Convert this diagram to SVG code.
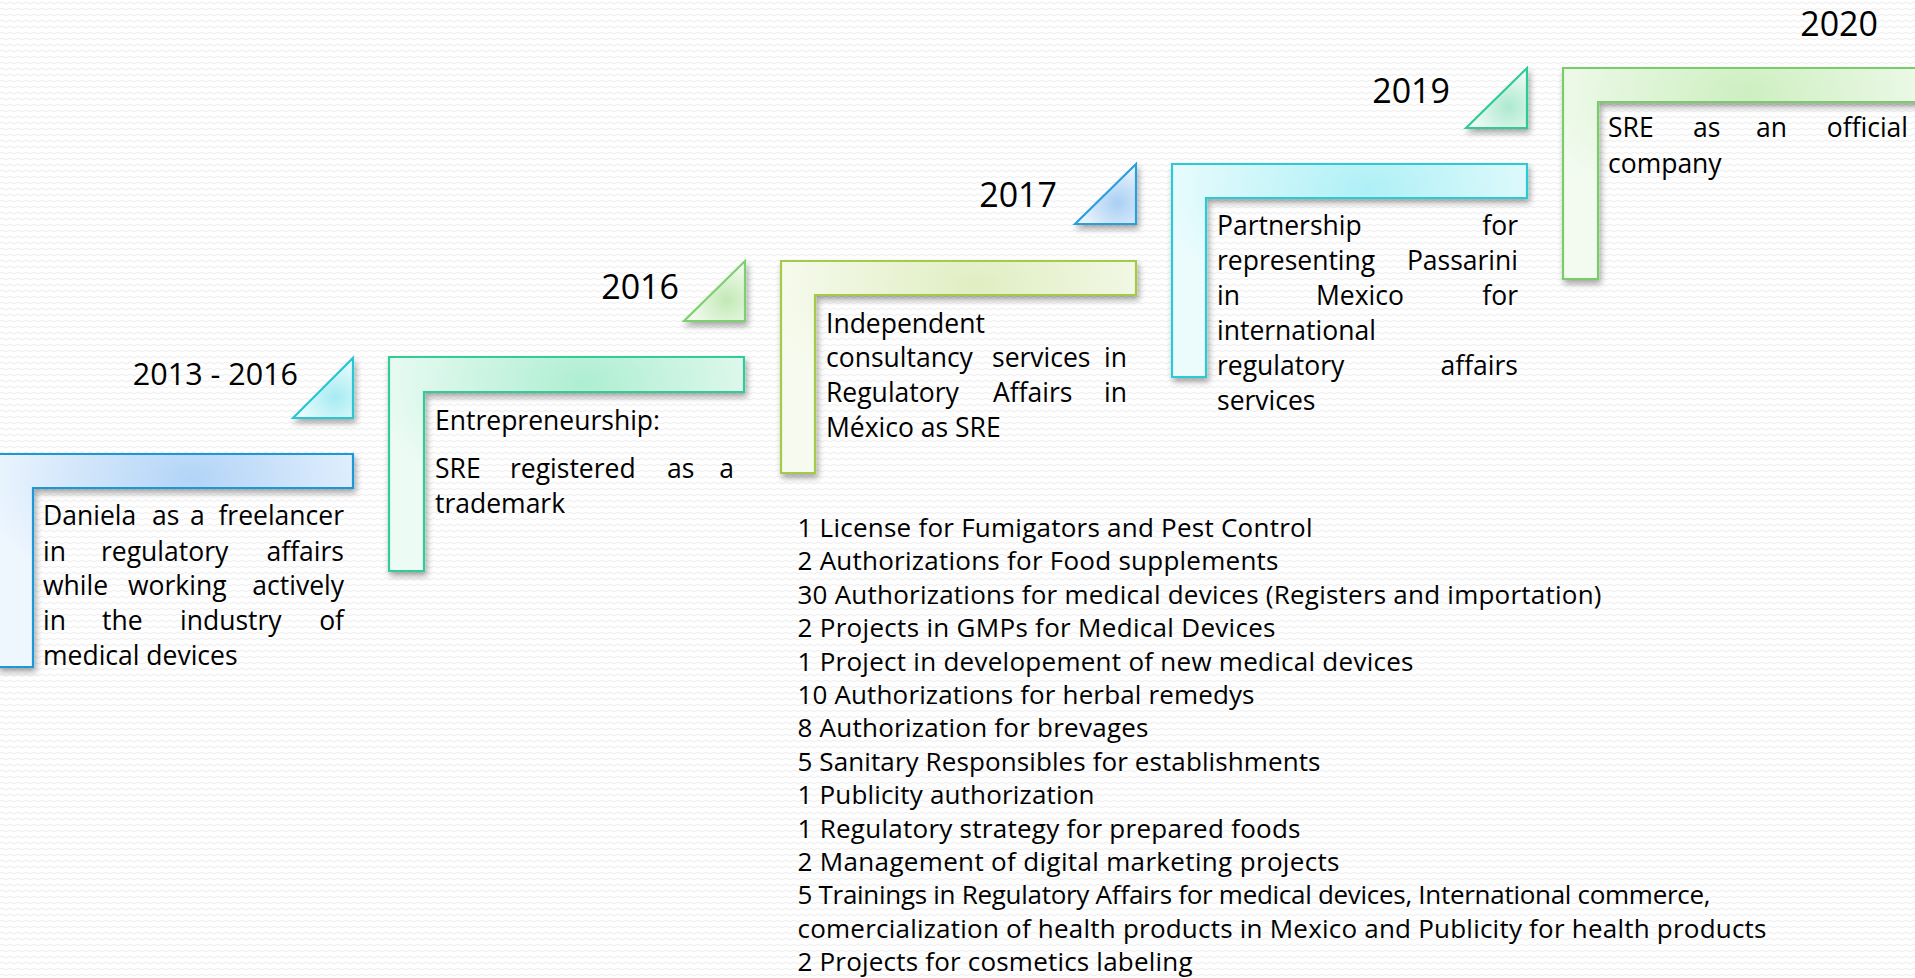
<svg xmlns="http://www.w3.org/2000/svg" width="1915" height="978" viewBox="0 0 1915 978">
<defs>
<pattern id="bg" width="8" height="6" patternUnits="userSpaceOnUse">
<rect width="8" height="6" fill="#ffffff"/>
<path d="M0 3 Q2 1 4 3 T8 3" stroke="#ececec" stroke-width="1" fill="none"/>
</pattern>
<filter id="sh" x="-10%" y="-10%" width="125%" height="130%">
<feDropShadow dx="2" dy="4" stdDeviation="3" flood-color="#000" flood-opacity="0.35"/>
</filter>
<radialGradient id="gL1" cx="0.55" cy="0.12" r="0.6"><stop offset="0" stop-color="#b2d4f7"/><stop offset="1" stop-color="#eef6fe"/></radialGradient>
<radialGradient id="gL2" cx="0.55" cy="0.12" r="0.6"><stop offset="0" stop-color="#aeeed2"/><stop offset="1" stop-color="#ecfbf4"/></radialGradient>
<radialGradient id="gL3" cx="0.55" cy="0.12" r="0.6"><stop offset="0" stop-color="#e0eec2"/><stop offset="1" stop-color="#f7fbef"/></radialGradient>
<radialGradient id="gL4" cx="0.55" cy="0.12" r="0.6"><stop offset="0" stop-color="#aef0f6"/><stop offset="1" stop-color="#ecfcfd"/></radialGradient>
<radialGradient id="gL5" cx="0.5" cy="0.12" r="0.6"><stop offset="0" stop-color="#cdefc0"/><stop offset="1" stop-color="#f3fbf0"/></radialGradient>
<radialGradient id="gT1" cx="0.7" cy="0.65" r="0.6"><stop offset="0" stop-color="#a6ebf2"/><stop offset="1" stop-color="#e5fbfc"/></radialGradient>
<radialGradient id="gT2" cx="0.7" cy="0.65" r="0.6"><stop offset="0" stop-color="#c2e9b6"/><stop offset="1" stop-color="#f0faec"/></radialGradient>
<radialGradient id="gT3" cx="0.7" cy="0.65" r="0.6"><stop offset="0" stop-color="#a9cff3"/><stop offset="1" stop-color="#e8f2fd"/></radialGradient>
<radialGradient id="gT4" cx="0.7" cy="0.65" r="0.6"><stop offset="0" stop-color="#ade9cf"/><stop offset="1" stop-color="#ecfaf4"/></radialGradient>
</defs>
<style>
text { font-family: "Open Sans", "Noto Sans", sans-serif; fill: #000; }
.b { font-size: 26.5px; }
.y { font-size: 34px; text-anchor: end; }
.e { text-anchor: end; }
.shape { stroke-width: 2.2; filter: url(#sh); }
.l { font-size: 26px; }
</style>
<rect width="1915" height="978" fill="url(#bg)"/>
<g id="connectors"/>

<g id="node-2013">
<path class="shape" d="M -2 454 H 353 V 488 H 33 V 667 H -2 Z" fill="url(#gL1)" stroke="#1f98d8"/>
<path class="shape" d="M 293 418 L 353 358 L 353 418 Z" fill="url(#gT1)" stroke="#29c6d4"/>
<text class="y" x="298" y="385" style="font-size:30.5px">2013 - 2016</text>
<g class="b">
<text x="43" y="525">Daniela</text><text x="152" y="525">as</text><text x="190" y="525">a</text><text class="e" x="344" y="525">freelancer</text>
<text x="43" y="561">in</text><text x="101" y="561">regulatory</text><text class="e" x="344" y="561">affairs</text>
<text x="43" y="595">while</text><text x="128" y="595">working</text><text class="e" x="344" y="595">actively</text>
<text x="43" y="630">in</text><text x="102" y="630">the</text><text x="180" y="630">industry</text><text class="e" x="344" y="630">of</text>
<text x="43" y="665">medical devices</text>
</g>
</g>

<g id="node-2016">
<path class="shape" d="M 389 357 H 744 V 392 H 424 V 571 H 389 Z" fill="url(#gL2)" stroke="#30cc98"/>
<path class="shape" d="M 684 321 L 745 261 L 745 321 Z" fill="url(#gT2)" stroke="#7dcf6f"/>
<text class="y" x="679" y="299">2016</text>
<g class="b">
<text x="435" y="430">Entrepreneurship:</text>
<text x="435" y="478">SRE</text><text x="510" y="478">registered</text><text x="667" y="478">as</text><text class="e" x="734" y="478">a</text>
<text x="435" y="513">trademark</text>
</g>
</g>

<g id="node-2017">
<path class="shape" d="M 781 261 H 1136 V 295 H 815 V 473 H 781 Z" fill="url(#gL3)" stroke="#a5c94a"/>
<path class="shape" d="M 1075 224 L 1136 164 L 1136 224 Z" fill="url(#gT3)" stroke="#2a9fd8"/>
<text class="y" x="1057" y="207">2017</text>
<g class="b">
<text x="826" y="333">Independent</text>
<text x="826" y="367">consultancy</text><text x="992" y="367">services</text><text class="e" x="1127" y="367">in</text>
<text x="826" y="402">Regulatory</text><text x="993" y="402">Affairs</text><text class="e" x="1127" y="402">in</text>
<text x="826" y="437">México as SRE</text>
</g>
</g>

<g id="node-2019">
<path class="shape" d="M 1172 164 H 1527 V 198 H 1206 V 377 H 1172 Z" fill="url(#gL4)" stroke="#2ccbd5"/>
<path class="shape" d="M 1466 128 L 1527 68 L 1527 128 Z" fill="url(#gT4)" stroke="#2dcb97"/>
<text class="y" x="1450" y="103">2019</text>
<g class="b">
<text x="1217" y="235">Partnership</text><text class="e" x="1518" y="235">for</text>
<text x="1217" y="270">representing</text><text class="e" x="1518" y="270">Passarini</text>
<text x="1217" y="305">in</text><text x="1316" y="305">Mexico</text><text class="e" x="1518" y="305">for</text>
<text x="1217" y="340">international</text>
<text x="1217" y="375">regulatory</text><text class="e" x="1518" y="375">affairs</text>
<text x="1217" y="410">services</text>
</g>
</g>

<g id="node-2020">
<path class="shape" d="M 1563 68 H 1930 V 102 H 1598 V 279 H 1563 Z" fill="url(#gL5)" stroke="#7acc6a"/>
<text class="y" x="1878" y="36">2020</text>
<g class="b">
<text x="1608" y="137">SRE</text><text x="1693" y="137">as</text><text x="1756" y="137">an</text><text class="e" x="1908" y="137">official</text>
<text x="1608" y="173">company</text>
</g>
</g>

<g id="achievements" class="l">
<text x="797.5" y="537" textLength="515" lengthAdjust="spacing">1 License for Fumigators and Pest Control</text>
<text x="797.5" y="570.4" textLength="481" lengthAdjust="spacing">2 Authorizations for Food supplements</text>
<text x="797.5" y="603.8" textLength="804" lengthAdjust="spacing">30 Authorizations for medical devices (Registers and importation)</text>
<text x="797.5" y="637.2" textLength="478" lengthAdjust="spacing">2 Projects in GMPs for Medical Devices</text>
<text x="797.5" y="670.6" textLength="616" lengthAdjust="spacing">1 Project in developement of new medical devices</text>
<text x="797.5" y="704" textLength="457" lengthAdjust="spacing">10 Authorizations for herbal remedys</text>
<text x="797.5" y="737.4" textLength="351" lengthAdjust="spacing">8 Authorization for brevages</text>
<text x="797.5" y="770.8" textLength="523" lengthAdjust="spacing">5 Sanitary Responsibles for establishments</text>
<text x="797.5" y="804.2" textLength="297" lengthAdjust="spacing">1 Publicity authorization</text>
<text x="797.5" y="837.6" textLength="503" lengthAdjust="spacing">1 Regulatory strategy for prepared foods</text>
<text x="797.5" y="871" textLength="542" lengthAdjust="spacing">2 Management of digital marketing projects</text>
<text x="797.5" y="904.4" textLength="913" lengthAdjust="spacing">5 Trainings in Regulatory Affairs for medical devices, International commerce,</text>
<text x="797.5" y="937.8" textLength="969" lengthAdjust="spacing">comercialization of health products in Mexico and Publicity for health products</text>
<text x="797.5" y="971.2" textLength="395" lengthAdjust="spacing">2 Projects for cosmetics labeling</text>
</g>
</svg>
